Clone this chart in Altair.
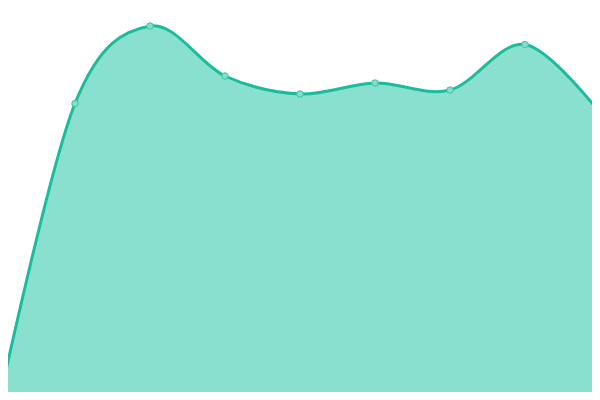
import altair as alt
import pandas as pd

# index of each point along the x axis
idx = [0, 1, 2, 3, 4, 5, 6, 7, 8]
# series values (1 unit = 1 px)
values = [2, 296.5, 374, 324, 306, 317, 310, 355.5, 287]

df = pd.DataFrame({"i": idx, "v": values})

LINE = "#1abc9c"
FILL = "#8ae0cf"

x = alt.X("i:Q", axis=None,
          scale=alt.Scale(domain=[8 / 75, 8 / 75 + 584 / 75], nice=False, zero=False))
y = alt.Y("v:Q", axis=None, scale=alt.Scale(domain=[8, 392], nice=False, zero=False))

base = alt.Chart(df).encode(x=x, y=y)

area = base.mark_area(interpolate="cardinal", color=FILL, opacity=1, clip=True)
line = base.mark_line(interpolate="cardinal", color=LINE, strokeWidth=3, clip=True)
pts = base.mark_point(filled=True, fill="#86dcc9", stroke="#3cc4a8", strokeWidth=1,
                      size=42, opacity=1, clip=True)

chart = (area + line + pts).properties(
    width=584, height=384, padding=0,
    autosize=alt.AutoSizeParams(type="fit", contains="padding"),
).configure_view(stroke=None)

chart.save("out.html", embed_options={"renderer": "svg", "actions": False})
